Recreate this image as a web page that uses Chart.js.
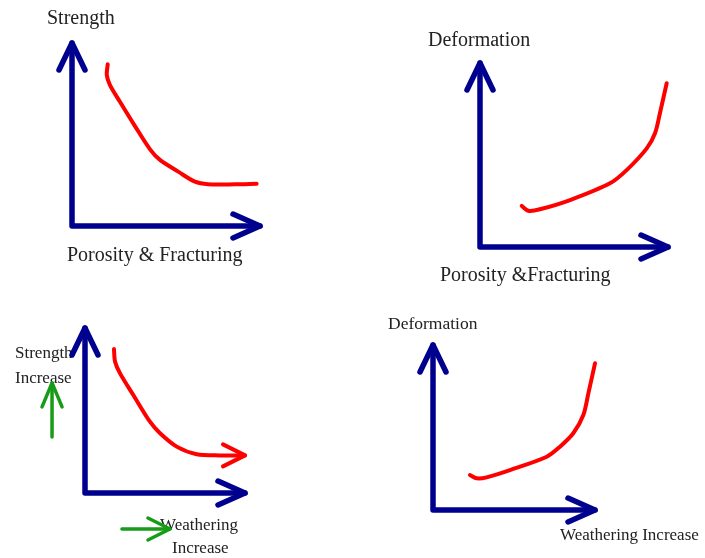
<!DOCTYPE html>
<html lang="en">
<head>
<meta charset="UTF-8">
<title>Strength and deformation sketches</title>
<script src="https://cdn.jsdelivr.net/npm/chart.js"></script>
<style>
    body { margin: 0; background: #fff; }
    .wrap { position: relative; width: 705px; height: 558px; }
    .wrap canvas { position: absolute; top: 0; left: 0; }
</style>
</head>
<body>
<div class="wrap">
    <canvas id="c1" width="705" height="558"></canvas>
    <canvas id="c2" width="705" height="558"></canvas>
    <canvas id="c3" width="705" height="558"></canvas>
    <canvas id="c4" width="705" height="558"></canvas>
</div>
<script>
// sketch values, axis units 0..10 on both axes
const strengthPorosityX = [1.90, 1.85, 2.02, 2.55, 3.35, 4.15, 4.68, 5.65, 6.54, 7.23, 8.67, 9.82];
const strengthPorosityY = [8.84, 8.25, 7.70, 6.79, 5.46, 4.19, 3.61, 2.97, 2.42, 2.28, 2.28, 2.31];

const deformPorosityX = [2.22, 2.57, 3.19, 4.79, 6.91, 7.80, 8.87, 9.31, 9.57, 9.93];
const deformPorosityY = [2.23, 1.97, 2.05, 2.55, 3.46, 4.18, 5.36, 6.18, 7.27, 8.90];

const strengthWeatherX = [1.81, 1.88, 2.19, 3.02, 4.06, 4.69, 5.73, 6.98, 8.44, 10.0];
const strengthWeatherY = [8.73, 7.96, 7.25, 5.94, 4.32, 3.62, 2.81, 2.35, 2.28, 2.28];

const deformWeatherX = [2.28, 2.70, 3.31, 4.75, 7.02, 7.84, 8.66, 9.28, 9.59, 10.0];
const deformWeatherY = [2.12, 1.92, 1.98, 2.42, 3.23, 3.84, 4.65, 5.76, 7.07, 8.89];

// green "increase" hints on the weathering/strength panel
const upHintX = [-2.06, -2.06];
const upHintY = [3.39, 6.67];
const rightHintX = [2.31, 5.31];
const rightHintY = [-2.18, -2.18];

const AXIS_BLUE = '#00008f';
const CURVE_RED = '#ff0000';
const HINT_GREEN = '#169c16';
const TEXT_COLOR = '#222';
const FONT = '"Liberation Serif", "Times New Roman", serif';

function pts(xs, ys) {
    return xs.map((x, i) => ({ x: x, y: ys[i] }));
}

function arrowHead(ctx, x0, y0, x1, y1, len, wing) {
    const ang = Math.atan2(y1 - y0, x1 - x0);
    const bx = x1 - len * Math.cos(ang), by = y1 - len * Math.sin(ang);
    const nx = -Math.sin(ang), ny = Math.cos(ang);
    ctx.beginPath();
    ctx.moveTo(bx + nx * wing, by + ny * wing);
    ctx.lineTo(x1, y1);
    ctx.lineTo(bx - nx * wing, by - ny * wing);
    ctx.stroke();
}

// draws the blue arrow axes + labels, and arrow heads on flagged datasets
const sketchPlugin = {
    id: 'sketch',
    beforeDatasetsDraw(chart, args, opts) {
        const ctx = chart.ctx, a = chart.chartArea;
        ctx.save();
        ctx.fillStyle = TEXT_COLOR;
        ctx.textBaseline = 'middle';
        ctx.textAlign = 'left';
        (opts.labels || []).forEach(l => {
            ctx.font = l.size + 'px ' + FONT;
            ctx.fillText(l.text, l.x, l.y);
        });
        ctx.lineCap = 'round';
        ctx.lineJoin = 'round';
        ctx.strokeStyle = AXIS_BLUE;
        ctx.lineWidth = 5.5;
        ctx.beginPath();
        ctx.moveTo(a.left, a.top);
        ctx.lineTo(a.left, a.bottom);
        ctx.lineTo(a.right, a.bottom);
        ctx.stroke();
        arrowHead(ctx, a.left, a.bottom, a.left, a.top, 27, 13);
        arrowHead(ctx, a.left, a.bottom, a.right, a.bottom, 27, 12);
        ctx.restore();
    },
    afterDatasetsDraw(chart) {
        const ctx = chart.ctx;
        ctx.save();
        ctx.lineCap = 'round';
        ctx.lineJoin = 'round';
        chart.data.datasets.forEach((ds, i) => {
            if (!ds.arrow) return;
            const el = chart.getDatasetMeta(i).data;
            const p = el[el.length - 2], q = el[el.length - 1];
            ctx.strokeStyle = ds.borderColor;
            ctx.lineWidth = ds.borderWidth;
            arrowHead(ctx, p.x, p.y, q.x, q.y, ds.arrow.len, ds.arrow.wing);
        });
        ctx.restore();
    }
};

function curve(data, extra) {
    return Object.assign({
        data: data,
        showLine: true,
        borderColor: CURVE_RED,
        borderWidth: 4,
        pointRadius: 0,
        tension: 0.3,
        borderCapStyle: 'round',
        borderJoinStyle: 'round',
        clip: false
    }, extra || {});
}

function makeSketch(id, padding, datasets, labels) {
    new Chart(document.getElementById(id), {
        type: 'scatter',
        data: { datasets: datasets },
        options: {
            responsive: false,
            animation: false,
            layout: { padding: padding },
            scales: {
                x: { type: 'linear', min: 0, max: 10, display: false },
                y: { type: 'linear', min: 0, max: 10, display: false }
            },
            plugins: {
                legend: { display: false },
                tooltip: { enabled: false },
                sketch: { labels: labels }
            }
        },
        plugins: [sketchPlugin]
    });
}

makeSketch('c1', { left: 72, top: 43, right: 445, bottom: 332 },
    [curve(pts(strengthPorosityX, strengthPorosityY))],
    [
        { text: 'Strength', x: 47, y: 19, size: 20 },
        { text: 'Porosity & Fracturing', x: 67, y: 256, size: 20 }
    ]);

makeSketch('c2', { left: 480, top: 63, right: 37, bottom: 311 },
    [curve(pts(deformPorosityX, deformPorosityY))],
    [
        { text: 'Deformation', x: 428, y: 41, size: 20 },
        { text: 'Porosity &Fracturing', x: 440, y: 276, size: 20 }
    ]);

makeSketch('c3', { left: 85, top: 328, right: 460, bottom: 65 },
    [
        curve(pts(strengthWeatherX, strengthWeatherY), { arrow: { len: 22, wing: 11 } }),
        curve(pts(upHintX, upHintY), { borderColor: HINT_GREEN, borderWidth: 3.5, tension: 0, arrow: { len: 24, wing: 10 } }),
        curve(pts(rightHintX, rightHintY), { borderColor: HINT_GREEN, borderWidth: 3.5, tension: 0, arrow: { len: 22, wing: 11 } })
    ],
    [
        { text: 'Strength', x: 15, y: 354, size: 17 },
        { text: 'Increase', x: 15, y: 379, size: 17 },
        { text: 'Weathering', x: 160, y: 526, size: 17 },
        { text: 'Increase', x: 172, y: 549, size: 17 }
    ]);

makeSketch('c4', { left: 433, top: 345, right: 110, bottom: 48 },
    [curve(pts(deformWeatherX, deformWeatherY))],
    [
        { text: 'Deformation', x: 388, y: 324, size: 17.5 },
        { text: 'Weathering Increase', x: 560, y: 536, size: 17 }
    ]);
</script>
</body>
</html>
